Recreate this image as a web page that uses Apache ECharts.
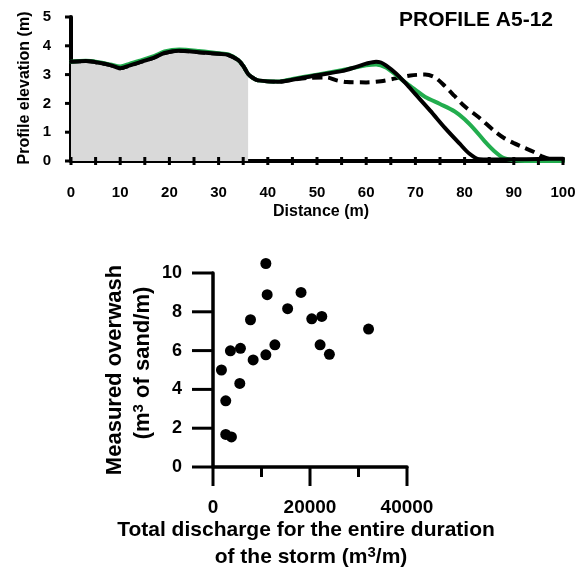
<!DOCTYPE html>
<html><head><meta charset="utf-8">
<script src="https://cdn.jsdelivr.net/npm/echarts@6/dist/echarts.min.js"></script>
<style>html,body{margin:0;padding:0;background:#fff}#c{width:584px;height:572px}</style>
</head><body><div id="c"></div><script>
const FONT = '"Liberation Sans", Arial, Helvetica, sans-serif';

// ---- Top panel: PROFILE A5-12 (distance in m, elevation in m) ----
const profileTitle = 'PROFILE A5-12';
const blackDist = [0,3,6,8,10,12,14,17,19,22,26,30,32,34,35,36,37,38,42,45,50,55,58,60,62,63,64,66,68,70,73,76,79,81,83,85,90,95,100];
const blackElev = [3.45,3.47,3.4,3.33,3.22,3.32,3.43,3.6,3.75,3.83,3.78,3.72,3.68,3.5,3.3,3.02,2.88,2.8,2.75,2.82,2.98,3.12,3.27,3.38,3.45,3.42,3.32,3.05,2.7,2.32,1.75,1.15,0.6,0.25,0.06,0.05,0.06,0.07,0.08];
const greenDist = [0,3,6,8,10,12,14,17,19,22,26,30,32,34,35,36,37,38,42,45,50,55,58,60,62,64,66,68,70,72,75,78,80,82,84,86,88,90,95,100];
const greenElev = [3.45,3.48,3.42,3.35,3.28,3.38,3.48,3.65,3.8,3.87,3.82,3.74,3.7,3.5,3.3,3.02,2.88,2.8,2.76,2.85,3.0,3.15,3.25,3.32,3.35,3.25,3.0,2.72,2.47,2.22,1.98,1.72,1.45,1.1,0.7,0.35,0.1,0.03,0.0,0.0];
const dashDist = [0,3,6,8,10,12,14,17,19,22,26,30,32,34,35,36,37,38,42,45,48,52,54,56,60,63,66,69,72,74,76,78,80,83,86,88,90,92,94,96,98,100];
const dashElev = [3.45,3.47,3.4,3.33,3.22,3.32,3.43,3.6,3.75,3.83,3.78,3.72,3.68,3.5,3.3,3.02,2.88,2.8,2.75,2.82,2.88,2.9,2.8,2.74,2.73,2.77,2.87,2.97,3.0,2.9,2.6,2.25,1.9,1.5,1.05,0.8,0.62,0.47,0.32,0.14,0.04,0.02];
const shadedEnd = 36;
const profileX = {min: 0, max: 100, step: 10};
const profileY = {min: 0, max: 5, step: 1};
const profileXTicks = [0,5,10,15,20,25,30,35,40,45,50,55,60,65,70,75,80,85,90,95,100];
const profileYTicks = [0,1,2,3,4,5];

// ---- Bottom panel: overwash vs total discharge ----
const discharge = [1740,2630,2630,3800,3590,5660,5520,7730,8280,10900,11170,10900,12760,15390,18150,20360,22430,22080,24000,32070];
const overwash  = [5.0,3.41,1.68,1.55,5.99,6.12,4.31,7.59,5.52,10.49,8.88,5.78,6.30,8.16,9.0,7.64,7.76,6.30,5.81,7.11];
const dischargeX = {min: 0, max: 40000, step: 20000};
const overwashY = {min: 0, max: 10, step: 2};
const dischargeMajorTicks = [0,20000,40000];
const dischargeMinorTicks = [10000,30000];
const overwashTicks = [0,2,4,6,8,10];

const pairs = (xs, ys) => xs.map((x, i) => [x, ys[i]]);
const shaded = pairs(blackDist, blackElev).filter(p => p[0] <= shadedEnd);

const lbl = (size, margin) => ({color: '#000', fontFamily: FONT, fontWeight: 'bold', fontSize: size, margin: margin});
const axLine = w => ({show: true, onZero: false, lineStyle: {color: '#000', width: w}});

const chart = echarts.init(document.getElementById('c'), null, {renderer: 'canvas'});
chart.setOption({
  animation: false,
  backgroundColor: '#fff',
  grid: [
    {left: 71, top: 17, width: 492, height: 144},
    {left: 213, top: 273, width: 194, height: 194}
  ],
  xAxis: [
    {gridIndex: 0, type: 'value', min: profileX.min, max: profileX.max, interval: profileX.step,
     axisLine: axLine(4), axisTick: {show: false}, axisLabel: lbl(15, 24), splitLine: {show: false}},
    {gridIndex: 1, type: 'value', min: dischargeX.min, max: dischargeX.max, interval: dischargeX.step,
     axisLine: axLine(3.5), axisTick: {show: false},
     axisLabel: Object.assign(lbl(19, 31), {formatter: v => String(v)}), splitLine: {show: false}}
  ],
  yAxis: [
    {gridIndex: 0, type: 'value', min: profileY.min, max: profileY.max, interval: profileY.step,
     axisLine: axLine(4), axisTick: {show: false}, axisLabel: lbl(15, 20), splitLine: {show: false}},
    {gridIndex: 1, type: 'value', min: overwashY.min, max: overwashY.max, interval: overwashY.step,
     axisLine: axLine(3.5), axisTick: {show: false}, axisLabel: lbl(18, 31), splitLine: {show: false}}
  ],
  series: [
    {type: 'line', xAxisIndex: 0, yAxisIndex: 0, data: shaded, symbol: 'none', z: 1,
     lineStyle: {width: 0, opacity: 0}, areaStyle: {color: '#d9d9d9', opacity: 1}},
    {type: 'line', xAxisIndex: 0, yAxisIndex: 0, data: pairs(dashDist, dashElev), symbol: 'none', z: 2, smooth: 0.3,
     lineStyle: {color: '#000', width: 4, type: [10, 6], cap: 'butt'}},
    {type: 'line', xAxisIndex: 0, yAxisIndex: 0, data: pairs(greenDist, greenElev), symbol: 'none', z: 3, smooth: 0.3,
     lineStyle: {color: '#22ad4e', width: 4, cap: 'round', join: 'round'}},
    {type: 'line', xAxisIndex: 0, yAxisIndex: 0, data: pairs(blackDist, blackElev), symbol: 'none', z: 4, smooth: 0.3,
     lineStyle: {color: '#000', width: 4, cap: 'round', join: 'round'}},
    {type: 'scatter', xAxisIndex: 1, yAxisIndex: 1, data: pairs(discharge, overwash), symbol: 'circle', symbolSize: 11,
     clip: false, z: 5, itemStyle: {color: '#000', opacity: 1}}
  ]
});

// Tick marks: pixel positions come from the axes' own scales via convertToPixel
const px = (gi, pt) => chart.convertToPixel({gridIndex: gi}, pt);
const tickLine = (id, x1, y1, x2, y2) => ({type: 'line', id: id, z: 10, silent: true,
  shape: {x1: x1, y1: y1, x2: x2, y2: y2}, style: {stroke: '#000', lineWidth: 3}});
const ticks = [];
profileXTicks.forEach((v, i) => { const p = px(0, [v, profileY.min]); ticks.push(tickLine('tx0_' + i, p[0], p[1] - 4, p[0], p[1] + 4)); });
profileYTicks.forEach((v, i) => { const p = px(0, [profileX.min, v]); ticks.push(tickLine('ty0_' + i, p[0] - 6, p[1], p[0], p[1])); });
dischargeMajorTicks.forEach((v, i) => { const p = px(1, [v, overwashY.min]); ticks.push(tickLine('tx1M_' + i, p[0], p[1], p[0], p[1] + 19)); });
dischargeMinorTicks.forEach((v, i) => { const p = px(1, [v, overwashY.min]); ticks.push(tickLine('tx1m_' + i, p[0], p[1], p[0], p[1] + 10)); });
overwashTicks.forEach((v, i) => { const p = px(1, [dischargeX.min, v]); ticks.push(tickLine('ty1_' + i, p[0] - 21, p[1], p[0], p[1])); });

const texts = [
  {type: 'text', id: 't1', x: 553, y: 20, style: {text: profileTitle, fill: '#000', fontFamily: FONT, fontWeight: 'bold', fontSize: 21, align: 'right', verticalAlign: 'middle'}},
  {type: 'text', id: 't2', x: 25, y: 88, rotation: Math.PI / 2, style: {text: 'Profile elevation (m)', fill: '#000', fontFamily: FONT, fontWeight: 'bold', fontSize: 16, align: 'center', verticalAlign: 'middle'}},
  {type: 'text', id: 't3', x: 321, y: 212, style: {text: 'Distance (m)', fill: '#000', fontFamily: FONT, fontWeight: 'bold', fontSize: 16, align: 'center', verticalAlign: 'middle'}},
  {type: 'text', id: 't4', x: 115, y: 370, rotation: Math.PI / 2, style: {text: 'Measured overwash', fill: '#000', fontFamily: FONT, fontWeight: 'bold', fontSize: 22, align: 'center', verticalAlign: 'middle'}},
  {type: 'text', id: 't5', x: 143, y: 363, rotation: Math.PI / 2, style: {text: '(m{s|3} of sand/m)', fill: '#000', fontFamily: FONT, fontWeight: 'bold', fontSize: 22, lineHeight: 24, align: 'center', verticalAlign: 'middle',
    rich: {s: {fontFamily: FONT, fontWeight: 'bold', fontSize: 15, verticalAlign: 'top', fill: '#000'}}}},
  {type: 'text', id: 't6', x: 306, y: 530, style: {text: 'Total discharge for the entire duration', fill: '#000', fontFamily: FONT, fontWeight: 'bold', fontSize: 21, align: 'center', verticalAlign: 'middle'}},
  {type: 'text', id: 't7', x: 311, y: 557, style: {text: 'of the storm (m{s|3}/m)', fill: '#000', fontFamily: FONT, fontWeight: 'bold', fontSize: 21, lineHeight: 24, align: 'center', verticalAlign: 'middle',
    rich: {s: {fontFamily: FONT, fontWeight: 'bold', fontSize: 15, verticalAlign: 'top', fill: '#000'}}}}
];
chart.setOption({graphic: texts.concat(ticks)});
</script></body></html>
